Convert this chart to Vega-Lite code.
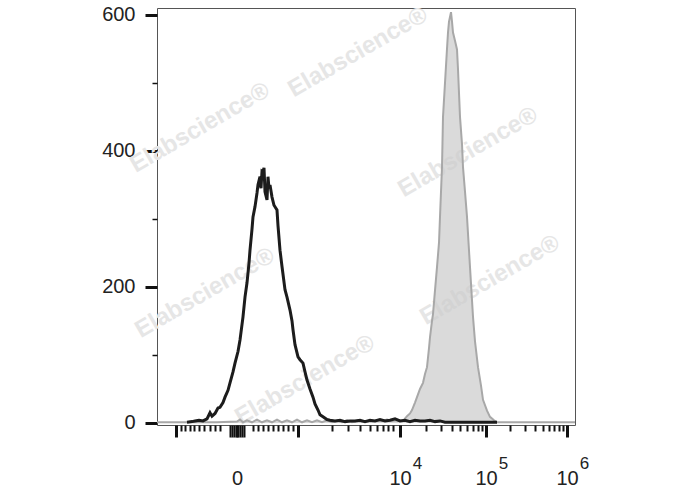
{
  "$schema": "https://vega.github.io/schema/vega-lite/v6.json",
  "width": 418,
  "height": 417,
  "autosize": {"type": "none"},
  "padding": {"left": 157, "top": 8, "right": 113, "bottom": 65},
  "background": "white",
  "config": {
    "view": {"stroke": "#555555", "strokeWidth": 1},
    "font": "Liberation Sans"
  },
  "datasets": {
    "wm": [
      {"u": 201, "c": 545, "t": "Elabscience®"},
      {"u": 43, "c": 434, "t": "Elabscience®"},
      {"u": 311, "c": 398, "t": "Elabscience®"},
      {"u": 48, "c": 191, "t": "Elabscience®"},
      {"u": 333, "c": 210, "t": "Elabscience®"},
      {"u": 148, "c": 63, "t": "Elabscience®"}
    ],
    "stained": [
      {"u": 0, "c": 1}, {"u": 20, "c": 1}, {"u": 40, "c": 1}, {"u": 60, "c": 1}, {"u": 80, "c": 2},
      {"u": 83, "c": 5}, {"u": 86, "c": 1}, {"u": 90, "c": 4}, {"u": 95, "c": 1}, {"u": 100, "c": 5},
      {"u": 105, "c": 1}, {"u": 110, "c": 4}, {"u": 115, "c": 1}, {"u": 120, "c": 5}, {"u": 125, "c": 1},
      {"u": 130, "c": 4}, {"u": 135, "c": 1}, {"u": 140, "c": 5}, {"u": 145, "c": 1}, {"u": 150, "c": 4},
      {"u": 155, "c": 1}, {"u": 160, "c": 4}, {"u": 165, "c": 1}, {"u": 170, "c": 4}, {"u": 175, "c": 1},
      {"u": 180, "c": 3}, {"u": 185, "c": 1}, {"u": 190, "c": 4}, {"u": 195, "c": 1}, {"u": 200, "c": 3},
      {"u": 205, "c": 2}, {"u": 210, "c": 3}, {"u": 215, "c": 2}, {"u": 220, "c": 4}, {"u": 225, "c": 3},
      {"u": 230, "c": 5}, {"u": 235, "c": 3}, {"u": 240, "c": 4}, {"u": 246, "c": 3}, {"u": 250, "c": 10},
      {"u": 253, "c": 14}, {"u": 255, "c": 19}, {"u": 258, "c": 30}, {"u": 260, "c": 38}, {"u": 263, "c": 50},
      {"u": 266, "c": 59}, {"u": 268, "c": 72}, {"u": 270, "c": 82}, {"u": 272, "c": 110}, {"u": 273, "c": 126},
      {"u": 275, "c": 150}, {"u": 276, "c": 160}, {"u": 278, "c": 195}, {"u": 280, "c": 229}, {"u": 282, "c": 265},
      {"u": 283, "c": 303}, {"u": 284, "c": 340}, {"u": 285, "c": 376}, {"u": 286, "c": 450}, {"u": 288, "c": 500},
      {"u": 290, "c": 550}, {"u": 291, "c": 574}, {"u": 292, "c": 590}, {"u": 294, "c": 604}, {"u": 295, "c": 590},
      {"u": 296, "c": 574}, {"u": 298, "c": 562}, {"u": 300, "c": 549}, {"u": 301, "c": 520}, {"u": 303, "c": 450},
      {"u": 305, "c": 410}, {"u": 306, "c": 376}, {"u": 308, "c": 340}, {"u": 310, "c": 303}, {"u": 313, "c": 229},
      {"u": 316, "c": 156}, {"u": 318, "c": 120}, {"u": 321, "c": 82}, {"u": 324, "c": 55}, {"u": 326, "c": 34},
      {"u": 330, "c": 18}, {"u": 333, "c": 9}, {"u": 337, "c": 4}, {"u": 340, "c": 1}, {"u": 350, "c": 1},
      {"u": 380, "c": 1}, {"u": 418, "c": 1}
    ],
    "unstained": [
      {"u": 30, "c": 1}, {"u": 35, "c": 2}, {"u": 38, "c": 3}, {"u": 42, "c": 4}, {"u": 46, "c": 3},
      {"u": 50, "c": 6}, {"u": 53, "c": 15}, {"u": 55, "c": 10}, {"u": 58, "c": 14}, {"u": 61, "c": 22},
      {"u": 63, "c": 23}, {"u": 66, "c": 30}, {"u": 68, "c": 38}, {"u": 71, "c": 48}, {"u": 73, "c": 59},
      {"u": 76, "c": 75}, {"u": 78, "c": 88}, {"u": 81, "c": 105}, {"u": 83, "c": 122}, {"u": 86, "c": 156},
      {"u": 88, "c": 185}, {"u": 90, "c": 206}, {"u": 92, "c": 235}, {"u": 93, "c": 254}, {"u": 95, "c": 285},
      {"u": 96, "c": 303}, {"u": 98, "c": 318}, {"u": 100, "c": 338}, {"u": 101, "c": 350}, {"u": 103, "c": 362},
      {"u": 104, "c": 345}, {"u": 105, "c": 370}, {"u": 106, "c": 369}, {"u": 107, "c": 375}, {"u": 108, "c": 340},
      {"u": 110, "c": 328}, {"u": 111, "c": 362}, {"u": 112, "c": 345}, {"u": 113, "c": 350}, {"u": 115, "c": 332},
      {"u": 117, "c": 320}, {"u": 120, "c": 313}, {"u": 121, "c": 290}, {"u": 123, "c": 254}, {"u": 125, "c": 230},
      {"u": 128, "c": 196}, {"u": 130, "c": 185}, {"u": 133, "c": 166}, {"u": 135, "c": 150}, {"u": 136, "c": 137},
      {"u": 138, "c": 115}, {"u": 141, "c": 97}, {"u": 143, "c": 93}, {"u": 146, "c": 88}, {"u": 148, "c": 75},
      {"u": 150, "c": 63}, {"u": 153, "c": 50}, {"u": 156, "c": 38}, {"u": 158, "c": 28}, {"u": 161, "c": 19},
      {"u": 163, "c": 12}, {"u": 166, "c": 9}, {"u": 170, "c": 5}, {"u": 173, "c": 4}, {"u": 178, "c": 3},
      {"u": 183, "c": 4}, {"u": 188, "c": 2}, {"u": 193, "c": 3}, {"u": 198, "c": 3}, {"u": 203, "c": 4},
      {"u": 208, "c": 2}, {"u": 213, "c": 4}, {"u": 218, "c": 3}, {"u": 223, "c": 5}, {"u": 228, "c": 3},
      {"u": 233, "c": 4}, {"u": 238, "c": 6}, {"u": 243, "c": 3}, {"u": 248, "c": 4}, {"u": 253, "c": 2},
      {"u": 258, "c": 4}, {"u": 263, "c": 3}, {"u": 268, "c": 3}, {"u": 273, "c": 4}, {"u": 278, "c": 2},
      {"u": 283, "c": 3}, {"u": 288, "c": 1}, {"u": 295, "c": 1}, {"u": 300, "c": 1}, {"u": 310, "c": 1},
      {"u": 320, "c": 1}, {"u": 330, "c": 1}, {"u": 340, "c": 1}
    ]
  },
  "layer": [
    {
      "data": {"name": "wm"},
      "mark": {"type": "text", "angle": -30, "font": "Liberation Sans", "fontWeight": "bold", "fontSize": 24, "color": "#e6e6e6", "align": "center", "baseline": "middle", "clip": false},
      "encoding": {
        "x": {"field": "u", "type": "quantitative", "scale": {"domain": [0, 418], "nice": false, "zero": false}, "axis": null},
        "y": {"field": "c", "type": "quantitative", "scale": {"domain": [-3, 610], "nice": false, "zero": false}},
        "text": {"field": "t"}
      }
    },
    {
      "data": {"name": "stained"},
      "mark": {"type": "area", "color": "#cbcbcb", "line": {"color": "#a8a8a8", "strokeWidth": 2}},
      "encoding": {
        "x": {"field": "u", "type": "quantitative", "scale": {"domain": [0, 418], "nice": false, "zero": false},
          "axis": {"orient": "bottom", "values": [243, 329, 410], "labelExpr": "datum.value == 243 ? '4' : datum.value == 329 ? '5' : '6'",
            "ticks": false, "tickSize": 0, "domain": false, "grid": false, "labelPadding": 30, "labelOffset": 17,
            "labelFont": "Liberation Sans", "labelFontSize": 17, "labelColor": "#222222", "title": null, "labelFlush": false, "labelOverlap": false}},
        "y": {"field": "c", "type": "quantitative", "scale": {"domain": [-3, 610], "nice": false, "zero": false}}
      }
    },
    {
      "data": {"name": "unstained"},
      "mark": {"type": "line", "color": "#1c1c1c", "strokeWidth": 3},
      "encoding": {
        "x": {"field": "u", "type": "quantitative", "scale": {"domain": [0, 418], "nice": false, "zero": false},
          "axis": {"orient": "bottom", "title": null, "grid": false, "domain": false,
            "values": [19, 24, 28, 33, 37, 42, 47, 53, 58, 63, 73, 75, 77, 79, 80, 81, 83, 85, 87, 96, 101, 106, 111, 116, 121, 126, 131, 136, 141, 175, 191, 203, 213, 220, 226, 231, 236, 243, 269, 284, 295, 303, 310, 316, 321, 325, 329, 353, 368, 378, 386, 392, 397, 402, 406, 410],
            "labelExpr": "datum.value == 80 ? '0' : (datum.value == 243 || datum.value == 329 || datum.value == 410) ? '10' : ''",
            "tickColor": "#111111",
            "tickSize": {"condition": {"test": "indexof([19,141,243,329,410,73,75,77,79,80,81,83,85,87], datum.value) >= 0", "value": 12}, "value": 6},
            "tickWidth": {"condition": {"test": "indexof([19,141,243,329,410], datum.value) >= 0", "value": 3}, "value": 2},
            "labelPadding": 31, "labelFont": "Liberation Sans", "labelFontSize": 20, "labelColor": "#222222", "labelFlush": false, "labelOverlap": false}},
        "y": {"field": "c", "type": "quantitative", "scale": {"domain": [-3, 610], "nice": false, "zero": false},
          "axis": {"title": null, "grid": false, "domain": false,
            "values": [0, 50, 100, 150, 200, 250, 300, 350, 400, 450, 500, 550, 600],
            "labelExpr": "datum.value % 200 == 0 ? datum.label : ''",
            "tickColor": "#111111",
            "tickSize": {"condition": {"test": "datum.value % 200 == 0", "value": 12}, "value": 5},
            "tickWidth": {"condition": {"test": "datum.value % 200 == 0", "value": 3}, "value": 1.5},
            "labelPadding": 10, "labelFont": "Liberation Sans", "labelFontSize": 20, "labelColor": "#222222", "labelOverlap": false}}
      }
    }
  ],
  "resolve": {"axis": {"x": "independent"}}
}
